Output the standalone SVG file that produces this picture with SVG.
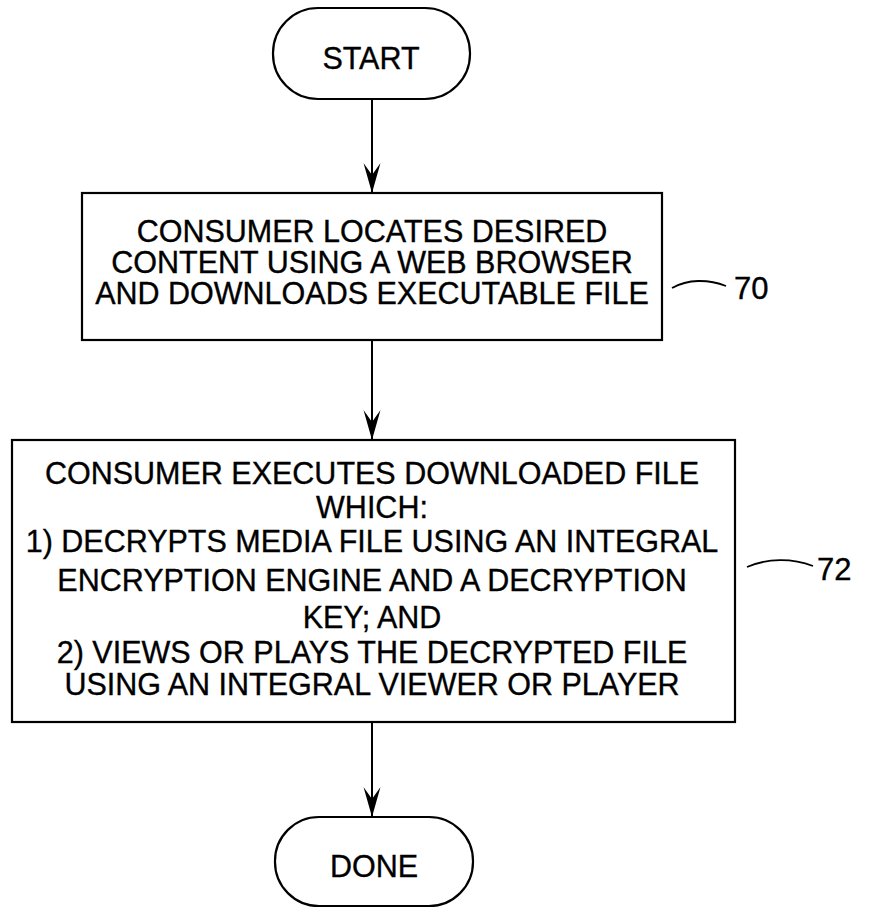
<svg xmlns="http://www.w3.org/2000/svg" width="875" height="909" viewBox="0 0 875 909">
<style>
.shape{fill:#fff;stroke:#000;stroke-width:2.2}
.t{font-family:"Liberation Sans",Arial,sans-serif;font-size:30.5px;fill:#000;stroke:#000;stroke-width:0.35;text-anchor:middle}
.lbl{font-family:"Liberation Sans",Arial,sans-serif;font-size:31px;fill:#000;stroke:#000;stroke-width:0.35}
.conn{stroke:#000;stroke-width:2;fill:none}
.lead{stroke:#000;stroke-width:1.8;fill:none}
</style>
<defs>
<marker id="ah" markerUnits="userSpaceOnUse" markerWidth="34" markerHeight="20" refX="32" refY="10" orient="auto" viewBox="0 0 34 20">
<path d="M32,10 L2,1.5 L14,10 L2,18.5 Z" fill="#000"/>
</marker>
</defs>
<rect width="875" height="909" fill="#fff"/>
<g id="start">
<rect class="shape" x="273" y="8" width="197" height="91" rx="45" ry="45"/>
<text class="t" x="371" y="69">START</text>
</g>
<g id="step70">
<rect class="shape" x="82" y="193" width="580" height="147"/>
<text class="t" x="372" y="242">CONSUMER LOCATES DESIRED</text>
<text class="t" x="372" y="273">CONTENT USING A WEB BROWSER</text>
<text class="t" x="372" y="304">AND DOWNLOADS EXECUTABLE FILE</text>
<path class="lead" d="M672,288 C688,279 708,279 726,286"/>
<text class="lbl" x="734" y="299">70</text>
</g>
<g id="step72">
<rect class="shape" x="12" y="440" width="723" height="282"/>
<text class="t" x="372" y="484">CONSUMER EXECUTES DOWNLOADED FILE</text>
<text class="t" x="372" y="518">WHICH:</text>
<text class="t" x="372" y="552">1) DECRYPTS MEDIA FILE USING AN INTEGRAL</text>
<text class="t" x="372" y="591">ENCRYPTION ENGINE AND A DECRYPTION</text>
<text class="t" x="372" y="628">KEY; AND</text>
<text class="t" x="372" y="663">2) VIEWS OR PLAYS THE DECRYPTED FILE</text>
<text class="t" x="372" y="695">USING AN INTEGRAL VIEWER OR PLAYER</text>
<path class="lead" d="M747,567 C768,558 792,558 813,566"/>
<text class="lbl" x="817" y="580">72</text>
</g>
<g id="done">
<rect class="shape" x="275" y="817" width="198" height="89" rx="44" ry="44"/>
<text class="t" x="374" y="877">DONE</text>
</g>
<g id="connectors">
<line class="conn" x1="372" y1="99" x2="372" y2="193" marker-end="url(#ah)"/>
<line class="conn" x1="372" y1="340" x2="372" y2="440" marker-end="url(#ah)"/>
<line class="conn" x1="372" y1="722" x2="372" y2="817" marker-end="url(#ah)"/>
</g>
</svg>
